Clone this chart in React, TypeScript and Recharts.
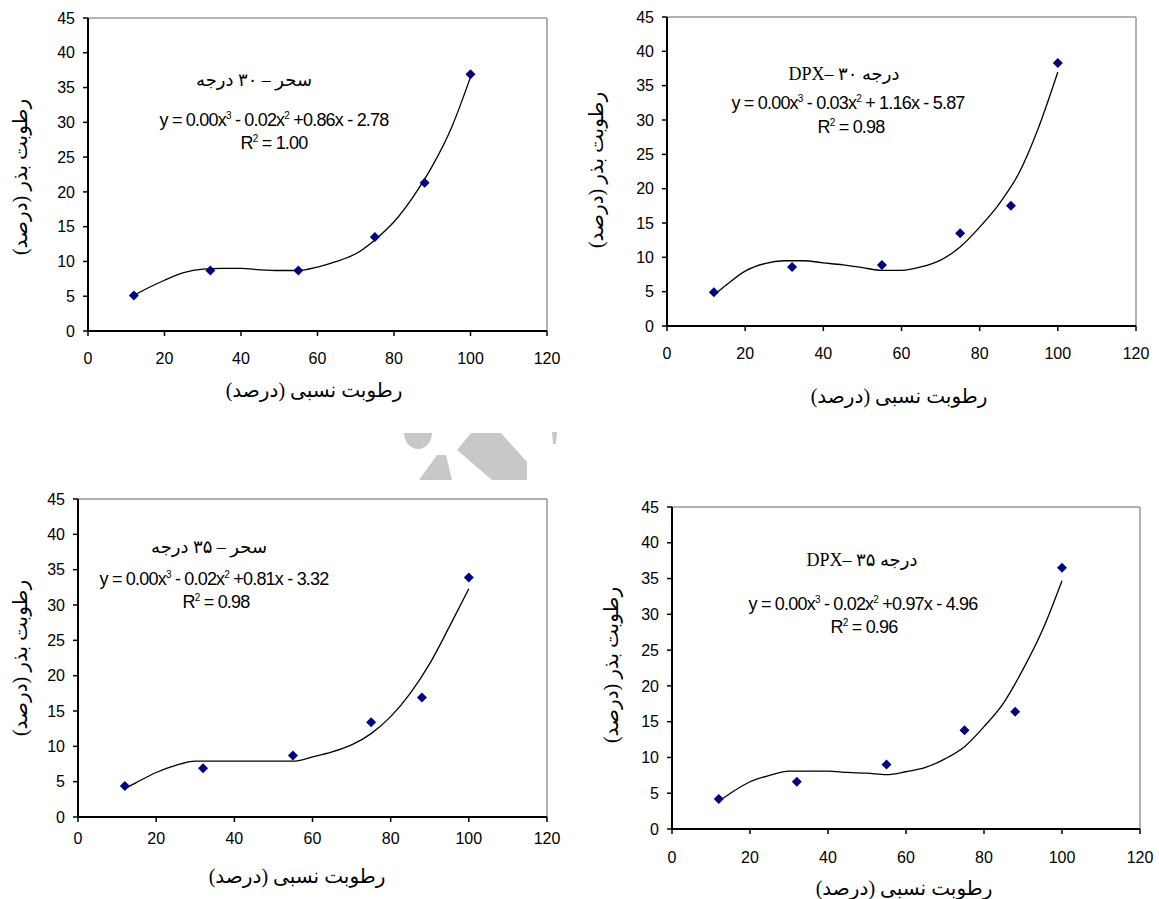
import React from "react";
import { ComposedChart, Scatter, Line, XAxis, YAxis, ReferenceLine } from "recharts";

// relative humidity (%) at the measured points
const RH = [12, 32, 55, 75, 88, 100];

// seed moisture (%) measured, per cultivar / temperature
const SAHAR_30 = [5.1, 8.7, 8.7, 13.5, 21.3, 36.9];
const DPX_30 = [4.9, 8.6, 8.9, 13.5, 17.5, 38.3];
const SAHAR_35 = [4.4, 6.9, 8.7, 13.4, 16.9, 33.9];
const DPX_35 = [4.2, 6.6, 9.0, 13.8, 16.4, 36.5];

// trend lines
const FIT_X = [12, 15, 20, 25, 30, 35, 40, 45, 50, 55, 60, 65, 70, 75, 80, 85, 90, 95, 100];
const SAHAR_30_FIT = [5.1, 6.0, 7.3, 8.4, 8.9, 9.0, 9.0, 8.8, 8.7, 8.7, 9.2, 10.0, 11.1, 13.1, 15.7, 19.3, 23.7, 29.2, 36.5];
const DPX_30_FIT = [4.5, 5.9, 8.0, 9.1, 9.5, 9.5, 9.2, 8.9, 8.5, 8.1, 8.1, 8.6, 9.6, 11.5, 14.4, 17.8, 22.2, 28.8, 37.0];
const SAHAR_35_FIT = [4.0, 4.9, 6.3, 7.3, 7.9, 7.9, 7.9, 7.9, 7.9, 7.9, 8.5, 9.2, 10.2, 11.8, 14.2, 17.5, 21.7, 26.9, 32.3];
const DPX_35_FIT = [3.9, 5.0, 6.6, 7.5, 8.1, 8.1, 8.1, 7.9, 7.8, 7.6, 8.0, 8.6, 9.8, 11.5, 14.3, 17.6, 22.3, 27.8, 34.7];

const X_TICKS = [0, 20, 40, 60, 80, 100, 120];
const Y_TICKS = [0, 5, 10, 15, 20, 25, 30, 35, 40, 45];

const X_TITLE = "رطوبت نسبی (درصد)";
const Y_TITLE = "رطوبت بذر (درصد)";

// equation coefficients as printed: [x3, x2, x1, const, R2]
const EQ_SAHAR_30 = ["0.00", "- 0.02", "+0.86", "- 2.78", "1.00"];
const EQ_DPX_30 = ["0.00", "- 0.03", "+ 1.16", "- 5.87", "0.98"];
const EQ_SAHAR_35 = ["0.00", "- 0.02", "+0.81", "- 3.32", "0.98"];
const EQ_DPX_35 = ["0.00", "- 0.02", "+0.97", "- 4.96", "0.96"];

const SANS = "'Liberation Sans', Arial, sans-serif";
const SERIF = "'Liberation Serif', 'Times New Roman', 'DejaVu Sans', serif";

type Pt = { x: number; y: number };
const toPts = (xs: number[], ys: number[]): Pt[] => xs.map((x, i) => ({ x, y: ys[i] }));

const Diamond = (props: any) => {
  const { cx, cy } = props;
  if (cx == null || cy == null) return <g />;
  const r = 5;
  return (
    <polygon
      points={`${cx},${cy - r} ${cx + r},${cy} ${cx},${cy + r} ${cx - r},${cy}`}
      fill="#000080"
    />
  );
};

interface Layout {
  left: number;
  top: number;
  width: number;
  height: number;
  plot: [number, number, number, number]; // x0, y0, x1, y1 on the page
  xTickMargin: number;
  yTitle: [number, number];
  xTitle: [number, number];
  title: [number, number];
  eq: [number, number];
  r2: [number, number];
}

const SUP: React.CSSProperties = { fontSize: 10, position: "relative", top: -7 };

function Equation({ c }: { c: string[] }) {
  return (
    <span>
      y = {c[0]}x<span style={SUP}>3</span> {c[1]}x<span style={SUP}>2</span> {c[2]}x {c[3]}
    </span>
  );
}

function Panel({
  lay,
  points,
  fit,
  title,
  eq,
}: {
  lay: Layout;
  points: Pt[];
  fit: Pt[];
  title: React.ReactNode;
  eq: string[];
}) {
  const [x0, y0, x1, y1] = lay.plot;
  const at = (p: [number, number]): React.CSSProperties => ({
    position: "absolute",
    left: p[0] - lay.left,
    top: p[1] - lay.top,
    transform: "translate(-50%, -50%)",
    whiteSpace: "nowrap",
  });
  const tick = { fill: "#000", fontSize: 16, fontFamily: SANS };
  return (
    <div
      style={{
        position: "absolute",
        left: lay.left,
        top: lay.top,
        width: lay.width,
        height: lay.height,
      }}
    >
      <ComposedChart
        width={lay.width}
        height={lay.height}
        margin={{ top: y0 - lay.top, right: lay.left + lay.width - x1, bottom: 0, left: 0 }}
      >
        <XAxis
          type="number"
          dataKey="x"
          domain={[0, 120]}
          ticks={X_TICKS}
          height={lay.top + lay.height - y1}
          axisLine={{ stroke: "#000", strokeWidth: 2 }}
          tickLine={{ stroke: "#000", strokeWidth: 1.5 }}
          tickSize={5}
          tickMargin={lay.xTickMargin}
          tick={tick}
        />
        <YAxis
          type="number"
          dataKey="y"
          domain={[0, 45]}
          ticks={Y_TICKS}
          width={x0 - lay.left}
          axisLine={{ stroke: "#000", strokeWidth: 2 }}
          tickLine={{ stroke: "#000", strokeWidth: 1.5 }}
          tickSize={5}
          tickMargin={8}
          tick={tick}
        />
        <ReferenceLine y={45} stroke="#999" strokeWidth={1.5} />
        <ReferenceLine x={120} stroke="#999" strokeWidth={1.5} />
        <Line
          data={fit}
          dataKey="y"
          type="monotone"
          stroke="#000"
          strokeWidth={1.3}
          dot={false}
          activeDot={false}
          isAnimationActive={false}
        />
        <Scatter data={points} dataKey="y" shape={<Diamond />} isAnimationActive={false} />
      </ComposedChart>

      <div
        style={{
          ...at(lay.yTitle),
          transform: "translate(-50%, -50%) rotate(-90deg)",
          direction: "rtl",
          fontFamily: SERIF,
          fontSize: 20,
        }}
      >
        {Y_TITLE}
      </div>
      <div style={{ ...at(lay.xTitle), direction: "rtl", fontFamily: SERIF, fontSize: 20 }}>
        {X_TITLE}
      </div>
      <div style={{ ...at(lay.title), fontFamily: SERIF, fontSize: 18 }}>{title}</div>
      <div style={{ ...at(lay.eq), fontFamily: SANS, fontSize: 18, letterSpacing: -0.8 }}>
        <Equation c={eq} />
      </div>
      <div style={{ ...at(lay.r2), fontFamily: SANS, fontSize: 18, letterSpacing: -0.8 }}>
        R<span style={SUP}>2</span> = {eq[4]}
      </div>
    </div>
  );
}

const LAYOUT_1: Layout = {
  left: 0, top: 0, width: 580, height: 420,
  plot: [88, 18, 547, 331],
  xTickMargin: 17,
  yTitle: [20, 177],
  xTitle: [314, 390],
  title: [254, 80],
  eq: [274, 120],
  r2: [274, 143],
};
const LAYOUT_2: Layout = {
  left: 580, top: 0, width: 579, height: 420,
  plot: [667, 17, 1136, 326],
  xTickMargin: 17,
  yTitle: [596, 170],
  xTitle: [899, 396],
  title: [844, 74],
  eq: [848, 103],
  r2: [851, 127],
};
const LAYOUT_3: Layout = {
  left: 0, top: 440, width: 580, height: 459,
  plot: [78, 499, 547, 817],
  xTickMargin: 11,
  yTitle: [20, 658],
  xTitle: [297, 876],
  title: [209, 547],
  eq: [214, 579],
  r2: [216, 602],
};
const LAYOUT_4: Layout = {
  left: 580, top: 440, width: 579, height: 459,
  plot: [672, 507, 1140, 829],
  xTickMargin: 18,
  yTitle: [611, 665],
  xTitle: [904, 888],
  title: [862, 560],
  eq: [863, 604],
  r2: [864, 627],
};

function Watermark() {
  return (
    <svg width={1159} height={899} style={{ position: "absolute", left: 0, top: 0 }}>
      <g fill="#c8c8c8">
        <path d="M404,433 L432,433 A14,16 0 0,1 404,433 Z" />
        <polygon points="437,455 446,455 452,480 419,480" />
        <polygon points="457,450 471,433 501,433 527,462 527,480 492,480" />
        <polygon points="552,432 557,432 556,444 553,444" />
      </g>
    </svg>
  );
}

export default function App() {
  return (
    <div
      style={{
        position: "absolute",
        left: 0,
        top: 0,
        width: 1159,
        height: 899,
        background: "#fff",
        overflow: "hidden",
      }}
    >
      <Watermark />
      <Panel
        lay={LAYOUT_1}
        points={toPts(RH, SAHAR_30)}
        fit={toPts(FIT_X, SAHAR_30_FIT)}
        title={<span style={{ direction: "rtl", display: "inline-block" }}>سحر – ۳۰ درجه</span>}
        eq={EQ_SAHAR_30}
      />
      <Panel
        lay={LAYOUT_2}
        points={toPts(RH, DPX_30)}
        fit={toPts(FIT_X, DPX_30_FIT)}
        title={
          <span style={{ direction: "ltr" }}>
            DPX– <span>۳۰ درجه</span>
          </span>
        }
        eq={EQ_DPX_30}
      />
      <Panel
        lay={LAYOUT_3}
        points={toPts(RH, SAHAR_35)}
        fit={toPts(FIT_X, SAHAR_35_FIT)}
        title={<span style={{ direction: "rtl", display: "inline-block" }}>سحر – ۳۵ درجه</span>}
        eq={EQ_SAHAR_35}
      />
      <Panel
        lay={LAYOUT_4}
        points={toPts(RH, DPX_35)}
        fit={toPts(FIT_X, DPX_35_FIT)}
        title={
          <span style={{ direction: "ltr" }}>
            DPX– <span>۳۵ درجه</span>
          </span>
        }
        eq={EQ_DPX_35}
      />
    </div>
  );
}
